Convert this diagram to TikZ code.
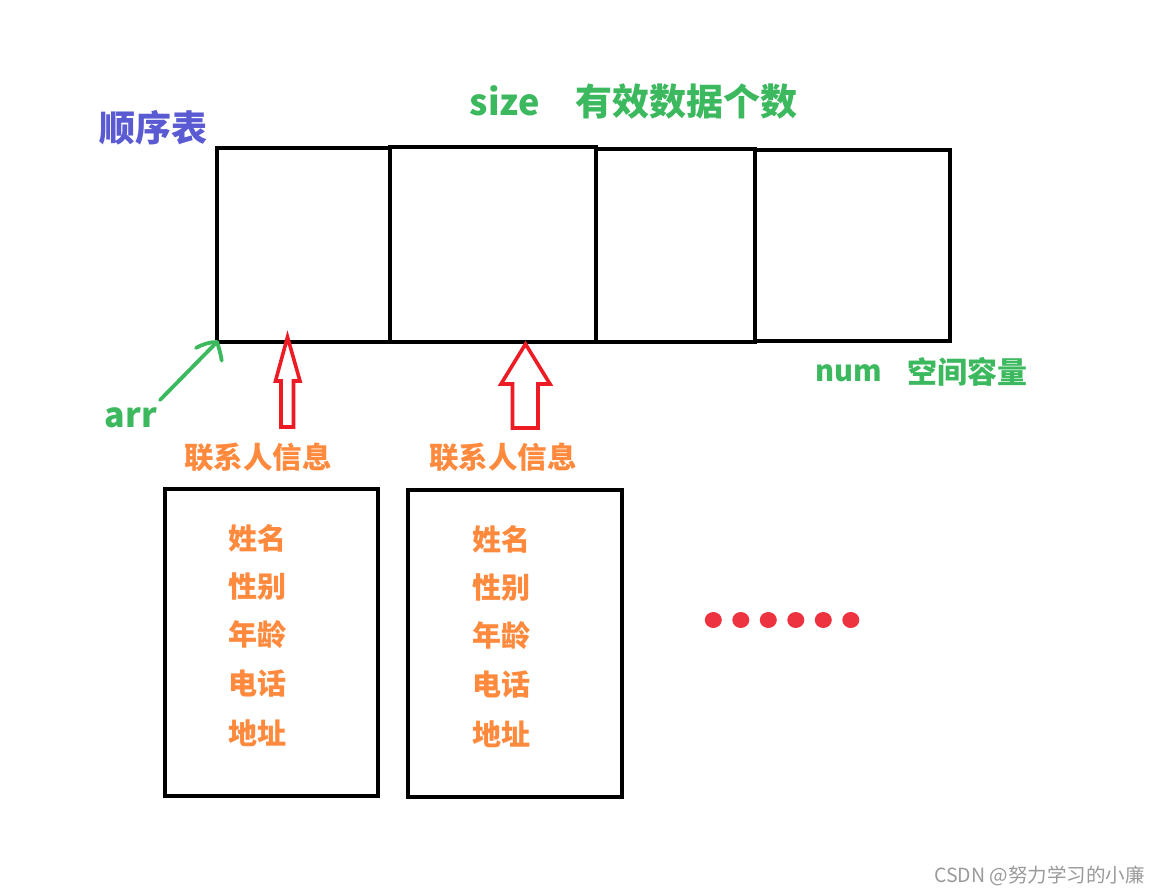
\documentclass[tikz,border=0pt]{standalone}
\usepackage{fontspec}
\usetikzlibrary{shapes.geometric}
\setmainfont{Noto Sans CJK SC}
\newfontfamily\cjk{Noto Sans CJK SC}
\definecolor{tblue}{HTML}{5A5AD2}
\definecolor{tgreen}{HTML}{3CB95E}
\definecolor{torange}{HTML}{FF8A3D}
\definecolor{tred}{HTML}{ED1C24}
\definecolor{tdot}{HTML}{EE3340}
\definecolor{tgray}{HTML}{9A9A9A}
\begin{document}
\begin{tikzpicture}[x=1pt,y=-1pt,
  cell/.style={draw=black,line width=4.4pt,inner sep=0pt,outer sep=0pt},
  lbl/.style={inner sep=0pt,font=\cjk\bfseries},
  item/.style={lbl,text=torange,font=\cjk\bfseries\fontsize{29}{32}\selectfont},
  redarrow/.style={draw=tred,line width=3.6pt,line join=miter},
  dot/.style={ellipse,fill=tdot,inner sep=0pt,minimum width=17pt,minimum height=16pt},
]
\useasboundingbox[fill=white] (0,0) rectangle (1160,894);
% top row cells
\node[cell,minimum width=173pt,minimum height=194pt] (c1) at (303.5,245) {};
\node[cell,minimum width=206pt,minimum height=195pt] (c2) at (493,244.5) {};
\node[cell,minimum width=159pt,minimum height=193pt] (c3) at (675.5,245.5) {};
\node[cell,minimum width=195pt,minimum height=191pt] (c4) at (852.5,245.5) {};
% labels top
\node[lbl,text=tblue,font=\cjk\bfseries\fontsize{36}{40}\selectfont] (title) at (153,128) {顺序表};
\node[lbl,text=tgreen,font=\cjk\bfseries\fontsize{36}{40}\selectfont] (size) at (505,101) {size};
\node[lbl,text=tgreen,font=\cjk\bfseries\fontsize{37}{40}\selectfont] (sizecn) at (686,101) {有效数据个数};
\node[lbl,text=tgreen,font=\cjk\bfseries\fontsize{29}{32}\selectfont] (num) at (849,373) {num};
\node[lbl,text=tgreen,font=\cjk\bfseries\fontsize{30}{32}\selectfont] (numcn) at (967,372) {空间容量};
\node[lbl,text=tgreen,font=\cjk\bfseries\fontsize{34}{36}\selectfont] (arr) at (131,418) {arr};
% green arrow
\coordinate (arrtail) at (160,400);
\draw[tgreen,line width=3.8pt,line cap=round,line join=round] (arrtail) -- (c1.south west);
\draw[tgreen,line width=3.8pt,line cap=round,line join=round] (196,348) .. controls (203,344) and (210,342) .. (c1.south west) .. controls (219,348) and (221,355) .. (221.7,360.7);
% red hollow arrows
\coordinate (t1) at (287.5,337);
\draw[redarrow] (t1) -- (300,381) -- (293.5,381) -- (293.5,427) -- (281,427) -- (281,381) -- (275.5,381) -- cycle;
\coordinate (t2) at (525.5,344);
\draw[redarrow] (t2) -- (550,384) -- (538,384) -- (538,428) -- (512.5,428) -- (512.5,384) -- (501,384) -- cycle;
% info titles
\node[lbl,text=torange,font=\cjk\bfseries\fontsize{29.5}{32}\selectfont] (info1) at (258,457) {联系人信息};
\node[lbl,text=torange,font=\cjk\bfseries\fontsize{29.5}{32}\selectfont] (info2) at (503,457) {联系人信息};
% lower boxes
\node[cell,minimum width=213pt,minimum height=307pt] (b1) at (271.5,642.5) {};
\node[cell,minimum width=214pt,minimum height=307pt] (b2) at (515,643.5) {};
\node[item] (a1) at (257,538) {姓名};
\node[item] (a2) at (257,587) {性别};
\node[item] (a3) at (257,635) {年龄};
\node[item] (a4) at (257,684) {电话};
\node[item] (a5) at (257,733) {地址};
\node[item] (e1) at (501,539) {姓名};
\node[item] (e2) at (501,588) {性别};
\node[item] (e3) at (501,636) {年龄};
\node[item] (e4) at (501,685) {电话};
\node[item] (e5) at (501,734) {地址};
% dots
\foreach \i in {0,...,5} {
  \node[dot] (d\i) at (713.3+27.5*\i,620) {};
}
% watermark
\node[inner sep=0pt,text=tgray,font=\cjk\fontsize{19.5}{21}\selectfont,anchor=east] (wm) at (1145,876) {CSDN @努力学习的小廉};
\end{tikzpicture}
\end{document}
